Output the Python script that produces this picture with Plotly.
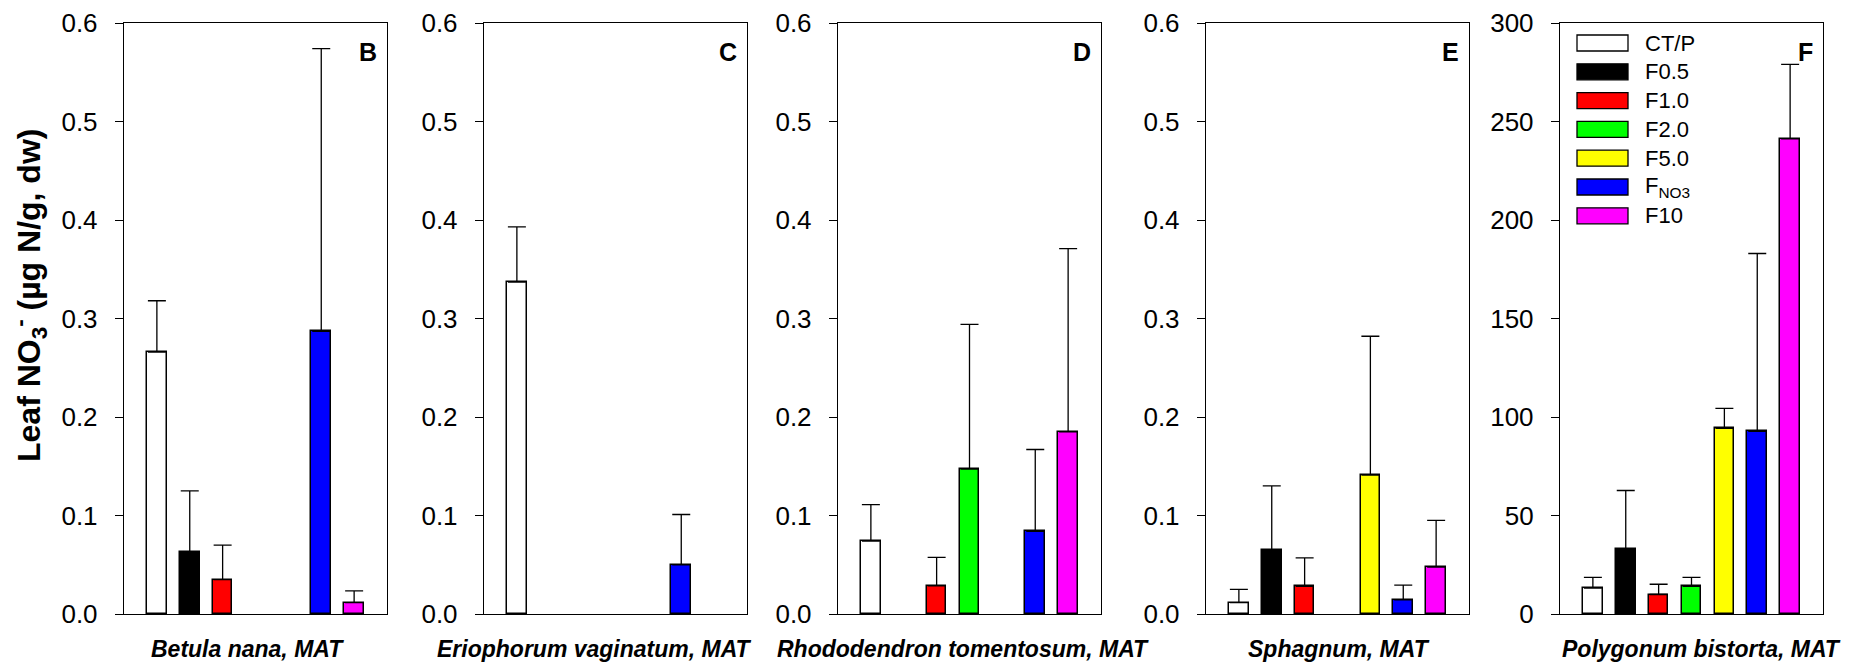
import plotly.graph_objects as go

# ---------------- data ----------------
categories = ["CT/P", "F0.5", "F1.0", "F2.0", "F5.0", "FNO3", "F10"]
legend_labels = ["CT/P", "F0.5", "F1.0", "F2.0", "F5.0", "F<sub>NO3</sub>", "F10"]
colors = ["#ffffff", "#000000", "#ff0000", "#00ff00", "#ffff00", "#0000ff", "#ff00ff"]

panel_letters = ["B", "C", "D", "E", "F"]
species = ["Betula nana, MAT", "Eriophorum vaginatum, MAT",
           "Rhododendron tomentosum, MAT", "Sphagnum, MAT", "Polygonum bistorta, MAT"]

betula_mean = [0.266, 0.063, 0.035, None, None, 0.287, 0.0115]
betula_err = [0.052, 0.062, 0.035, None, None, 0.287, 0.012]

erioph_mean = [0.337, None, None, None, None, 0.050, None]
erioph_err = [0.056, None, None, None, None, 0.051, None]

rhodo_mean = [0.074, None, 0.0285, 0.147, None, 0.084, 0.185]
rhodo_err = [0.037, None, 0.029, 0.147, None, 0.083, 0.186]

sphag_mean = [0.0115, 0.065, 0.028, None, 0.141, 0.0143, 0.0475]
sphag_err = [0.0135, 0.065, 0.029, None, 0.141, 0.015, 0.0475]

polyg_mean = [13.2, 32.9, 9.9, 14.0, 94.2, 92.7, 241.2]
polyg_err = [5.4, 29.8, 5.2, 4.6, 10.2, 90.3, 37.8]

means = [betula_mean, erioph_mean, rhodo_mean, sphag_mean, polyg_mean]
errs = [betula_err, erioph_err, rhodo_err, sphag_err, polyg_err]

small_ticks = [0.0, 0.1, 0.2, 0.3, 0.4, 0.5, 0.6]
large_ticks = [0, 50, 100, 150, 200, 250, 300]
y_ticks = [small_ticks, small_ticks, small_ticks, small_ticks, large_ticks]

# ---------------- layout geometry (page pixels) ----------------
# the page body has an 8 px default margin, so the figure is drawn 8 px smaller
# and every page position is shifted by that offset
OFF = 8
W, H = 1858 - OFF, 668 - OFF
plot_left, plot_right, plot_top, plot_bottom = 124, 1823, 23, 614   # page px
ML = plot_left - OFF
MT = plot_top - OFF
MR = W - (plot_right - OFF)
MB = H - (plot_bottom - OFF)
PW = W - ML - MR
PH = H - MT - MB
panel_left = [124, 484, 838, 1206, 1560]
panel_w = 263
title_center = [247, 594, 963, 1339, 1701]

FONT = "Liberation Sans, Arial, sans-serif"

def px_to_paper_x(px):
    return (px - plot_left) / PW

def px_to_paper_y(py):
    return (plot_bottom - py) / PH

positions = list(range(1, len(categories) + 1))

fig = go.Figure()
layout = dict(
    width=W, height=H,
    margin=dict(l=ML, r=MR, t=MT, b=MB, autoexpand=False),
    plot_bgcolor="white", paper_bgcolor="white",
    showlegend=False,
    font=dict(family=FONT, color="black"),
    bargap=0,
)

annotations = []
shapes = []

for i in range(5):
    n = "" if i == 0 else str(i + 1)
    xa = "x" + n
    ya = "y" + n
    fig.add_trace(go.Bar(
        x=positions, y=means[i],
        xaxis=xa, yaxis=ya,
        width=0.6,
        marker=dict(color=colors, line=dict(color="black", width=1.5)),
        error_y=dict(type="data", symmetric=False, array=errs[i],
                     arrayminus=[0] * len(categories),
                     color="black", thickness=1.3, width=9),
        hovertext=categories,
    ))
    d0 = px_to_paper_x(panel_left[i])
    d1 = px_to_paper_x(panel_left[i] + panel_w)
    layout["xaxis" + n] = dict(
        domain=[max(d0, 0.0), min(d1, 1.0)], range=[0, len(categories) + 1],
        showticklabels=False, ticks="", showgrid=False, zeroline=False,
        showline=True, mirror=True, linecolor="black", linewidth=1.4,
        anchor=ya, fixedrange=True, automargin=False,
    )
    tv = y_ticks[i]
    layout["yaxis" + n] = dict(
        domain=[0, 1], range=[tv[0], tv[-1]],
        tickvals=tv,
        ticktext=[("%.1f" % v) if tv[-1] < 1 else ("%d" % v) for v in tv],
        ticks="outside", ticklen=8, tickwidth=1.2, tickcolor="black",
        ticklabelstandoff=12,
        tickfont=dict(family=FONT, size=26, color="black"),
        showgrid=False, zeroline=False,
        showline=True, mirror=True, linecolor="black", linewidth=1.4,
        anchor=xa, fixedrange=True, automargin=False,
    )
    # panel letter
    annotations.append(dict(
        text="<b>%s</b>" % panel_letters[i],
        xref=xa + " domain", yref=ya + " domain",
        x=1, y=1, xanchor="right", yanchor="top",
        xshift=-8, yshift=-13, showarrow=False,
        font=dict(family=FONT, size=25, color="black"),
    ))
    # species label
    annotations.append(dict(
        text="<b><i>%s</i></b>" % species[i],
        xref="paper", yref="paper",
        x=px_to_paper_x(title_center[i]), y=px_to_paper_y(649),
        xanchor="center", yanchor="middle", showarrow=False,
        font=dict(family=FONT, size=23, color="black"),
    ))

# y-axis title
annotations.append(dict(
    text="<b>Leaf NO<sub>3</sub><sup>-</sup> (\u00b5g N/g, dw)</b>",
    xref="paper", yref="paper",
    x=px_to_paper_x(29), y=px_to_paper_y(296),
    xanchor="center", yanchor="middle", textangle=-90, showarrow=False,
    font=dict(family=FONT, size=32, color="black"),
))

# legend drawn inside panel F
row0, row_step = 43, 28.8
sw_x0, sw_x1, txt_x = 1577, 1628, 1643
for k, (lab, col) in enumerate(zip(legend_labels, colors)):
    yc = row0 + k * row_step
    shapes.append(dict(
        type="rect", xref="paper", yref="paper",
        x0=px_to_paper_x(sw_x0), x1=px_to_paper_x(sw_x1),
        y0=px_to_paper_y(yc - 8), y1=px_to_paper_y(yc + 8),
        fillcolor=col, line=dict(color="black", width=1.3),
    ))
    annotations.append(dict(
        text=lab, xref="paper", yref="paper",
        x=px_to_paper_x(txt_x), y=px_to_paper_y(yc),
        xanchor="left", yanchor="middle", showarrow=False,
        font=dict(family=FONT, size=22, color="black"),
    ))

layout["annotations"] = annotations
layout["shapes"] = shapes
fig.update_layout(**layout)
fig.write_html("out.html")
